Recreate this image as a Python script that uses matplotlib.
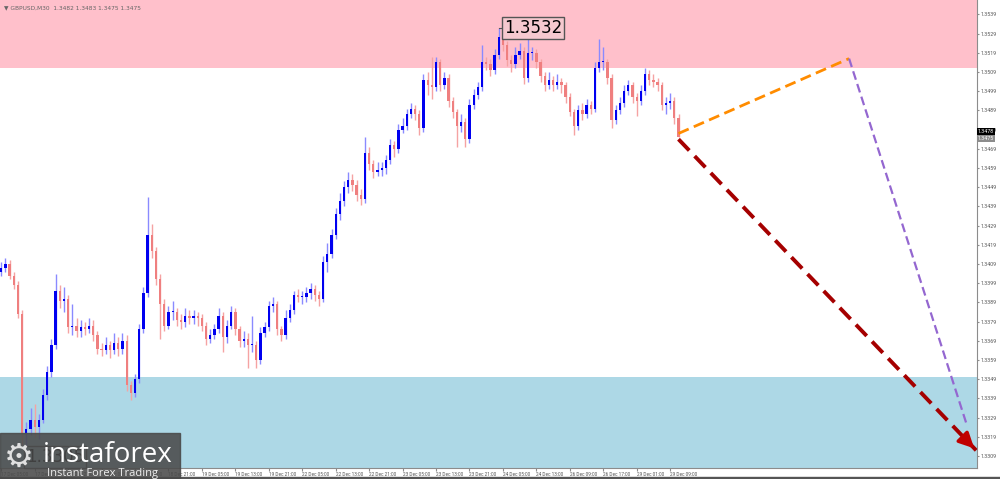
import numpy as np
import matplotlib.pyplot as plt
from matplotlib.patches import Rectangle

# GBPUSD hourly candles (index 0 = 17 Dec 05:00)
open0 = 1.3405
closes = [1.3407, 1.3409, 1.3403, 1.3398, 1.3383, 1.3321, 1.3323, 1.3328, 1.3324, 1.3328,
          1.3341, 1.3353, 1.3367, 1.3395, 1.3390, 1.3391, 1.3376, 1.3377, 1.3374, 1.3376,
          1.3375, 1.3377, 1.3372, 1.3365, 1.3364, 1.3367, 1.3364, 1.3368, 1.3365, 1.3369,
          1.3346, 1.3342, 1.3349, 1.3375, 1.3394, 1.3424, 1.3416, 1.3401, 1.3388, 1.3377,
          1.3384, 1.3384, 1.3380, 1.3379, 1.3382, 1.3381, 1.3382, 1.3381, 1.3377, 1.3370,
          1.3372, 1.3375, 1.3382, 1.3371, 1.3377, 1.3384, 1.3375, 1.3369, 1.3370, 1.3367,
          1.3367, 1.3359, 1.3373, 1.3376, 1.3387, 1.3388, 1.3375, 1.3372, 1.3381, 1.3385,
          1.3393, 1.3392, 1.3392, 1.3394, 1.3396, 1.3393, 1.3391, 1.3410, 1.3414, 1.3424,
          1.3435, 1.3442, 1.3449, 1.3453, 1.3450, 1.3445, 1.3443, 1.3467, 1.3461, 1.3457,
          1.3458, 1.3459, 1.3463, 1.3471, 1.3469, 1.3479, 1.3481, 1.3487, 1.3490, 1.3487,
          1.3480, 1.3505, 1.3502, 1.3501, 1.3514, 1.3502, 1.3506, 1.3494, 1.3488, 1.3481,
          1.3483, 1.3474, 1.3492, 1.3497, 1.3501, 1.3514, 1.3513, 1.3510, 1.3518, 1.3527,
          1.3523, 1.3515, 1.3513, 1.3518, 1.3520, 1.3506, 1.3519, 1.3519, 1.3514, 1.3507,
          1.3502, 1.3505, 1.3502, 1.3504, 1.3502, 1.3496, 1.3488, 1.3481, 1.3489, 1.3487,
          1.3492, 1.3490, 1.3511, 1.3514, 1.3514, 1.3506, 1.3484, 1.3489, 1.3493, 1.3499,
          1.3502, 1.3496, 1.3494, 1.3499, 1.3508, 1.3505, 1.3504, 1.3502, 1.3492, 1.3493,
          1.3494, 1.3485, 1.3475]
highs = [1.3410, 1.3412, 1.3411, 1.3405, 1.3400, 1.3385, 1.3327, 1.3334, 1.3336, 1.3331,
         1.3344, 1.3356, 1.3370, 1.3404, 1.3398, 1.3397, 1.3393, 1.3388, 1.3381, 1.3380,
         1.3379, 1.3381, 1.3380, 1.3374, 1.3368, 1.3371, 1.3369, 1.3373, 1.3371, 1.3373,
         1.3372, 1.3348, 1.3352, 1.3378, 1.3397, 1.3444, 1.3430, 1.3418, 1.3404, 1.3391,
         1.3387, 1.3390, 1.3386, 1.3383, 1.3386, 1.3385, 1.3385, 1.3384, 1.3383, 1.3379,
         1.3375, 1.3378, 1.3386, 1.3384, 1.3380, 1.3387, 1.3386, 1.3377, 1.3374, 1.3373,
         1.3382, 1.3369, 1.3376, 1.3379, 1.3390, 1.3392, 1.3390, 1.3377, 1.3385, 1.3388,
         1.3395, 1.3396, 1.3395, 1.3397, 1.3399, 1.3398, 1.3395, 1.3413, 1.3420, 1.3427,
         1.3438, 1.3446, 1.3452, 1.3457, 1.3456, 1.3453, 1.3448, 1.3475, 1.3470, 1.3463,
         1.3462, 1.3462, 1.3466, 1.3474, 1.3473, 1.3482, 1.3485, 1.3490, 1.3493, 1.3492,
         1.3489, 1.3508, 1.3509, 1.3517, 1.3517, 1.3516, 1.3509, 1.3508, 1.3496, 1.3490,
         1.3487, 1.3485, 1.3495, 1.3500, 1.3504, 1.3523, 1.3517, 1.3516, 1.3521, 1.3532,
         1.3529, 1.3525, 1.3518, 1.3522, 1.3524, 1.3522, 1.3527, 1.3522, 1.3521, 1.3516,
         1.3509, 1.3509, 1.3507, 1.3508, 1.3506, 1.3504, 1.3498, 1.3490, 1.3492, 1.3493,
         1.3495, 1.3494, 1.3514, 1.3526, 1.3522, 1.3516, 1.3508, 1.3492, 1.3496, 1.3502,
         1.3505, 1.3504, 1.3498, 1.3502, 1.3511, 1.3510, 1.3508, 1.3506, 1.3504, 1.3496,
         1.3498, 1.3496, 1.3487]
lows = [1.3403, 1.3405, 1.3401, 1.3396, 1.3381, 1.3315, 1.3305, 1.3320, 1.3319, 1.3318,
        1.3326, 1.3338, 1.3350, 1.3365, 1.3386, 1.3384, 1.3373, 1.3372, 1.3371, 1.3371,
        1.3372, 1.3373, 1.3369, 1.3362, 1.3361, 1.3362, 1.3360, 1.3362, 1.3361, 1.3362,
        1.3343, 1.3338, 1.3340, 1.3347, 1.3373, 1.3392, 1.3412, 1.3398, 1.3370, 1.3374,
        1.3375, 1.3380, 1.3377, 1.3375, 1.3376, 1.3378, 1.3378, 1.3377, 1.3374, 1.3367,
        1.3368, 1.3370, 1.3373, 1.3363, 1.3368, 1.3375, 1.3372, 1.3366, 1.3366, 1.3355,
        1.3363, 1.3355, 1.3357, 1.3371, 1.3374, 1.3384, 1.3372, 1.3369, 1.3370, 1.3379,
        1.3383, 1.3389, 1.3388, 1.3389, 1.3391, 1.3390, 1.3387, 1.3389, 1.3405, 1.3412,
        1.3422, 1.3432, 1.3439, 1.3446, 1.3447, 1.3442, 1.3440, 1.3441, 1.3458, 1.3454,
        1.3455, 1.3455, 1.3456, 1.3461, 1.3465, 1.3467, 1.3477, 1.3479, 1.3485, 1.3484,
        1.3476, 1.3478, 1.3497, 1.3495, 1.3499, 1.3499, 1.3500, 1.3491, 1.3485, 1.3470,
        1.3478, 1.3470, 1.3472, 1.3490, 1.3495, 1.3499, 1.3510, 1.3507, 1.3508, 1.3516,
        1.3520, 1.3512, 1.3509, 1.3511, 1.3516, 1.3503, 1.3504, 1.3515, 1.3511, 1.3504,
        1.3499, 1.3500, 1.3499, 1.3500, 1.3498, 1.3493, 1.3486, 1.3476, 1.3479, 1.3484,
        1.3485, 1.3487, 1.3488, 1.3509, 1.3510, 1.3503, 1.3480, 1.3482, 1.3487, 1.3491,
        1.3497, 1.3493, 1.3486, 1.3492, 1.3497, 1.3502, 1.3501, 1.3499, 1.3489, 1.3487,
        1.3490, 1.3482, 1.3475]

time_labels = ['17 Dec 05:00', '17 Dec 13:00', '17 Dec 21:00', '18 Dec 05:00', '18 Dec 13:00',
               '18 Dec 21:00', '19 Dec 05:00', '19 Dec 13:00', '19 Dec 21:00', '22 Dec 05:00',
               '22 Dec 13:00', '22 Dec 21:00', '23 Dec 05:00', '23 Dec 13:00', '23 Dec 21:00',
               '24 Dec 05:00', '24 Dec 13:00', '26 Dec 09:00', '26 Dec 17:00', '29 Dec 01:00',
               '29 Dec 09:00']
price_ticks = [1.3309, 1.3319, 1.3329, 1.3339, 1.3349, 1.3359, 1.3369, 1.3379, 1.3389, 1.3399,
               1.3409, 1.3419, 1.3429, 1.3439, 1.3449, 1.3459, 1.3469, 1.3479, 1.3489, 1.3499,
               1.3509, 1.3519, 1.3529, 1.3539]

# zones
sell_zone = (1.3511, 1.3560)
buy_zone = (1.3290, 1.3350)

# forecast wave (bar index, price)
orange_x, orange_y = [162, 202.8], [1.3477, 1.3516]
purple_x, purple_y = [202.8, 231.0], [1.3516, 1.3325]
red_x, red_y = [162, 233.2], [1.3474, 1.3312]

peak_idx, peak_price = 119, 1.3532
low_idx, low_price = 6, 1.3305
bid, ask = 1.3475, 1.3478

opens = [open0] + closes[:-1]
idx = np.arange(len(closes))
o = np.array(opens)
c = np.array(closes)
up = c >= o

fig = plt.figure(figsize=(10, 4.79), dpi=100)
ax = fig.add_axes([0, 11 / 479, 0.977, 468 / 479])
ax.set_xlim(-0.3, 233.4)
ax.set_ylim(1.33028, 1.35465)

ax.axhspan(*sell_zone, color='#ffc0cb', zorder=0, lw=0)
ax.axhspan(*buy_zone, color='#add8e6', zorder=0, lw=0)

# wicks then bodies
ax.vlines(idx[up], np.array(lows)[up], np.array(highs)[up], color='#8a8aff', lw=1, zorder=2)
ax.vlines(idx[~up], np.array(lows)[~up], np.array(highs)[~up], color='#f5a3a3', lw=1, zorder=2)
body_h = np.maximum(np.abs(c - o), 0.00005)
ax.bar(idx[up], body_h[up], bottom=np.minimum(o, c)[up], width=0.55, color='#0000f0', lw=0, zorder=3)
ax.bar(idx[~up], body_h[~up], bottom=np.minimum(o, c)[~up], width=0.55, color='#ef7f7f', lw=0, zorder=3)

# forecast lines
ax.plot(orange_x, orange_y, color='#ff8c00', lw=2, ls=(0, (4, 2)), zorder=4)
ax.plot(purple_x, purple_y, color='#9467d0', lw=1.6, ls=(0, (4, 2)), zorder=4)
ax.plot(red_x, red_y, color='#a50000', lw=2.8, ls=(0, (4, 2)), zorder=4)
ax.annotate('', xy=(red_x[1], red_y[1]), xytext=(red_x[1] - 2.2, red_y[1] + 0.00048),
            arrowprops=dict(arrowstyle='-|>,head_length=0.9,head_width=0.45', color='#c00000', lw=2.5),
            zorder=5)

# extreme labels
ax.plot([peak_idx, peak_idx + 1.3], [peak_price, peak_price], color='#555555', lw=0.8, zorder=5)
ax.text(peak_idx + 1.3, peak_price, '%.4f' % peak_price, fontsize=12, va='center', ha='left',
        color='black', zorder=6,
        bbox=dict(boxstyle='square,pad=0.12', fc='#f6c9cf', ec='#555555', lw=1))
ax.text(low_idx, low_price + 0.00035, '%.4f' % low_price, fontsize=12, va='center', ha='left',
        color='black', zorder=6,
        bbox=dict(boxstyle='square,pad=0.12', fc='#b8dde9', ec='#555555', lw=1))

# axes look like a terminal window
for s in ['left', 'top']:
    ax.spines[s].set_visible(False)
for s in ['right', 'bottom']:
    ax.spines[s].set_color('#8c8c8c')
    ax.spines[s].set_linewidth(0.8)
ax.yaxis.tick_right()
ax.set_yticks(price_ticks)
ax.set_yticklabels(['%.4f' % p for p in price_ticks], family='Roboto')
ax.tick_params(axis='y', labelsize=3.8, colors='#8c8c8c', labelcolor='#555555', length=1.5, pad=1)
ax.set_xticks(np.arange(0, 161, 8))
ax.set_xticklabels(time_labels, ha='left', family='Roboto')
ax.tick_params(axis='x', labelsize=3.4, colors='#8c8c8c', labelcolor='#555555', length=2, pad=1)

ax.text(1.001, ask, '%.4f' % ask, transform=ax.get_yaxis_transform(), fontsize=3.8,
        family='Roboto', color='white', va='center', ha='left', zorder=7,
        bbox=dict(boxstyle='square,pad=0.15', fc='black', ec='none'), clip_on=False)
ax.text(1.001, bid - 0.00005, '%.4f' % bid, transform=ax.get_yaxis_transform(), fontsize=3.8,
        family='Roboto', color='white', va='center', ha='left', zorder=7,
        bbox=dict(boxstyle='square,pad=0.15', fc='#8c8c8c', ec='none'), clip_on=False)

ax.text(0.004, 0.988, '\u25bc GBPUSD,M30  1.3482 1.3483 1.3475 1.3475', transform=ax.transAxes,
        fontsize=4.2, color='#666666', va='top', ha='left')

# bottom strip
fig.patches.append(Rectangle((0, 0), 1, 2 / 479, transform=fig.transFigure, color='#555555', zorder=10))

# instaforex logo
fig.patches.append(Rectangle((0, 0), 0.18, 46 / 479, transform=fig.transFigure,
                             color='#4a4a4a', alpha=0.88, zorder=20))
fig.text(0.004, 0.046, '\u2699', fontsize=24, color='#e0e0e0', va='center', ha='left', zorder=21)
fig.text(0.043, 0.036, 'instaforex', fontsize=20, family='Open Sans', color='white',
         va='baseline', ha='left', zorder=21)
fig.text(0.047, 0.006, 'Instant Forex Trading', fontsize=8, family='Open Sans', color='#eeeeee',
         va='baseline', ha='left', zorder=21)

fig.savefig('out.png', dpi=100)
